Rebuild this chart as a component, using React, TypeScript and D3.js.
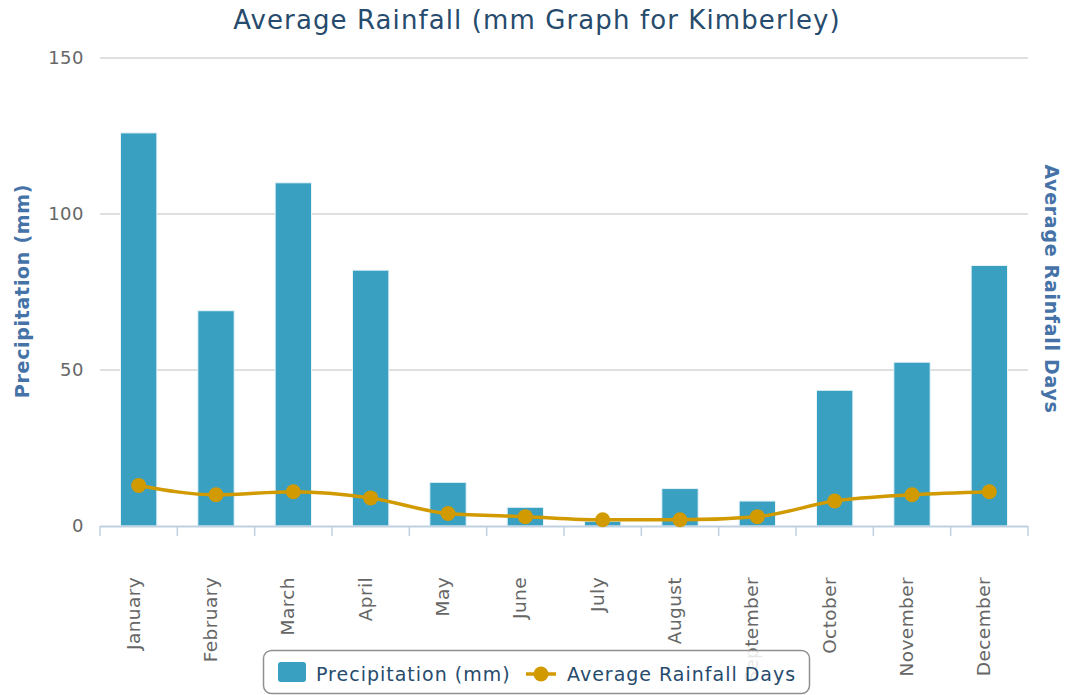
import React, { useEffect, useRef } from 'react'
import * as d3 from 'd3'

const months = ['January', 'February', 'March', 'April', 'May', 'June', 'July', 'August', 'September', 'October', 'November', 'December']
const precipitation = [126, 69, 110, 82, 14, 6, 1.5, 12, 8, 43.5, 52.5, 83.5]
const rainDays = [13, 10, 11, 9, 4, 3, 2, 2, 3, 8, 10, 11]
const yTicks = [0, 50, 100, 150]

const W = 1068
const H = 695
const font = '"DejaVu Sans", Verdana, sans-serif'

export default function App() {
  const ref = useRef<SVGSVGElement>(null)

  useEffect(() => {
    const svg = d3.select(ref.current)
    svg.selectAll('*').remove()

    const left = 100, right = 1028, top = 58, bottom = 526

    const x = d3.scaleBand().domain(months).range([left, right]).paddingInner(0.53).paddingOuter(0.265)
    const xc = d3.scaleBand().domain(months).range([left, right])
    const y = d3.scaleLinear().domain([0, 150]).range([bottom, top])

    // title
    svg.append('text')
      .attr('x', 537).attr('y', 29)
      .attr('text-anchor', 'middle')
      .attr('font-size', 26).attr('letter-spacing', 1.1).attr('fill', '#274b6d')
      .text('Average Rainfall (mm Graph for Kimberley)')

    // grid
    svg.append('g').selectAll('line')
      .data(yTicks.filter(d => d > 0))
      .enter().append('line')
        .attr('x1', left).attr('x2', right)
        .attr('y1', d => y(d)).attr('y2', d => y(d))
        .attr('stroke', '#c0c0c0').attr('stroke-width', 1)

    // y labels
    svg.append('g').selectAll('text')
      .data(yTicks)
      .enter().append('text')
        .attr('x', 84).attr('y', d => y(d) + 6)
        .attr('text-anchor', 'end')
        .attr('font-size', 18).attr('letter-spacing', 0.5).attr('fill', '#666')
        .text(d => d)

    // bars
    svg.append('g').selectAll('rect')
      .data(precipitation)
      .enter().append('rect')
        .attr('x', (d, i) => x(months[i])!)
        .attr('y', d => y(d))
        .attr('width', x.bandwidth())
        .attr('height', d => bottom - y(d))
        .attr('fill', '#39a0c2')
        .attr('stroke', '#e8f4f8').attr('stroke-width', 1)

    // x axis
    svg.append('line')
      .attr('x1', left).attr('x2', right)
      .attr('y1', bottom + 0.5).attr('y2', bottom + 0.5)
      .attr('stroke', '#c0d0e0').attr('stroke-width', 2)
    svg.append('g').selectAll('line')
      .data([...months.map(m => xc(m)!), right])
      .enter().append('line')
        .attr('x1', d => d).attr('x2', d => d)
        .attr('y1', bottom).attr('y2', bottom + 10)
        .attr('stroke', '#c0d0e0').attr('stroke-width', 1.5)

    svg.append('g').selectAll('text')
      .data(months)
      .enter().append('text')
        .attr('transform', d => `translate(${xc(d)! + xc.bandwidth() / 2 + 1},577) rotate(-90)`)
        .attr('text-anchor', 'end')
        .attr('font-size', 18.5).attr('letter-spacing', 0.4).attr('fill', '#666')
        .text(d => d)

    // line
    const cx = (i: number) => xc(months[i])! + xc.bandwidth() / 2
    const line = d3.line<number>()
      .x((d, i) => cx(i))
      .y(d => y(d))
      .curve(d3.curveMonotoneX)
    svg.append('path')
      .datum(rainDays)
      .attr('d', line)
      .attr('fill', 'none')
      .attr('stroke', '#d09a00').attr('stroke-width', 3.5)
    svg.append('g').selectAll('circle')
      .data(rainDays)
      .enter().append('circle')
        .attr('cx', (d, i) => cx(i))
        .attr('cy', d => y(d))
        .attr('r', 7.5)
        .attr('fill', '#d09a00')

    // axis titles
    svg.append('text')
      .attr('transform', 'translate(29,291) rotate(-90)')
      .attr('text-anchor', 'middle')
      .attr('font-size', 19).attr('font-weight', 'bold').attr('letter-spacing', 0.7).attr('fill', '#4572a7')
      .text('Precipitation (mm)')
    svg.append('text')
      .attr('transform', 'translate(1045,289) rotate(90)')
      .attr('text-anchor', 'middle')
      .attr('font-size', 19).attr('font-weight', 'bold').attr('letter-spacing', 0.7).attr('fill', '#4572a7')
      .text('Average Rainfall Days')

    // legend
    const lg = svg.append('g')
    lg.append('rect')
      .attr('x', 263.5).attr('y', 650.5).attr('width', 546).attr('height', 43).attr('rx', 8)
      .attr('fill', 'white').attr('fill-opacity', 0.85).attr('stroke', '#909090').attr('stroke-width', 1.5)
    lg.append('rect')
      .attr('x', 278).attr('y', 662).attr('width', 28).attr('height', 20).attr('rx', 3)
      .attr('fill', '#39a0c2')
    lg.append('text')
      .attr('x', 316).attr('y', 681)
      .attr('font-size', 19).attr('letter-spacing', 1).attr('fill', '#274b6d')
      .text('Precipitation (mm)')
    lg.append('line')
      .attr('x1', 526).attr('x2', 556).attr('y1', 674).attr('y2', 674)
      .attr('stroke', '#d09a00').attr('stroke-width', 3.5)
    lg.append('circle')
      .attr('cx', 541).attr('cy', 674).attr('r', 7.5).attr('fill', '#d09a00')
    lg.append('text')
      .attr('x', 567).attr('y', 681)
      .attr('font-size', 19).attr('letter-spacing', 1).attr('fill', '#274b6d')
      .text('Average Rainfall Days')
  }, [])

  return (
    <div style={{ position: 'absolute', left: 0, top: 0 }}>
      <svg ref={ref} width={W} height={H} style={{ fontFamily: font, display: 'block' }} />
    </div>
  )
}
